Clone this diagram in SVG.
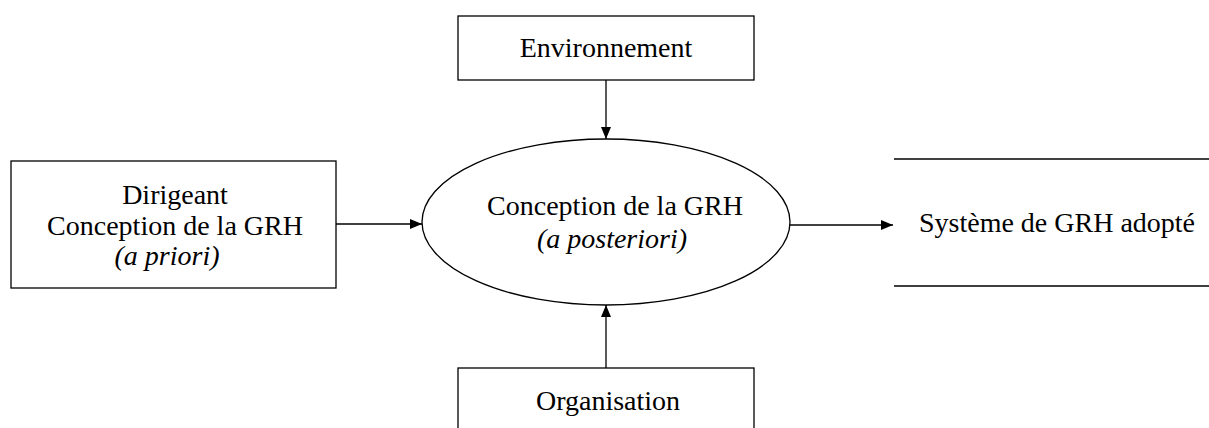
<svg xmlns="http://www.w3.org/2000/svg" width="1209" height="428" viewBox="0 0 1209 428">
<style>
.box{fill:#fff;stroke:#000;stroke-width:1.3}
.t{font-family:"Liberation Serif","Times New Roman",serif;font-size:28px;fill:#000;text-anchor:middle}
.i{font-style:italic}
.c{stroke:#000;stroke-width:1.3;fill:none}
</style>
<defs>
<marker id="ah" viewBox="0 0 12 10" refX="12" refY="5" markerWidth="12" markerHeight="10" markerUnits="userSpaceOnUse" orient="auto">
<path d="M0,0 L12,5 L0,10 Z" fill="#000"/>
</marker>
</defs>
<rect width="1209" height="428" fill="#fff"/>
<g id="connectors">
<line class="c" x1="336" y1="224" x2="422" y2="224" marker-end="url(#ah)"/>
<line class="c" x1="606" y1="80" x2="606" y2="139" marker-end="url(#ah)"/>
<line class="c" x1="606" y1="368" x2="606" y2="305" marker-end="url(#ah)"/>
<line class="c" x1="790" y1="225" x2="893" y2="225" marker-end="url(#ah)"/>
</g>
<g id="dirigeant">
<rect class="box" x="11" y="161" width="325" height="127"/>
<text class="t" x="175" y="204">Dirigeant</text>
<text class="t" x="175" y="235">Conception de la GRH</text>
<text class="t i" x="167" y="265">(a priori)</text>
</g>
<g id="environnement">
<rect class="box" x="458" y="16" width="296" height="64"/>
<text class="t" x="606" y="57">Environnement</text>
</g>
<g id="conception">
<ellipse class="box" cx="606" cy="222" rx="184" ry="83"/>
<text class="t" x="615" y="215">Conception de la GRH</text>
<text class="t i" x="612" y="248">(a posteriori)</text>
</g>
<g id="organisation">
<rect class="box" x="458" y="368" width="296" height="80"/>
<text class="t" x="608" y="410">Organisation</text>
</g>
<g id="systeme">
<line class="c" x1="894" y1="159" x2="1209" y2="159"/>
<line class="c" x1="894" y1="286" x2="1209" y2="286"/>
<text class="t" x="1057" y="232">Système de GRH adopté</text>
</g>
</svg>
